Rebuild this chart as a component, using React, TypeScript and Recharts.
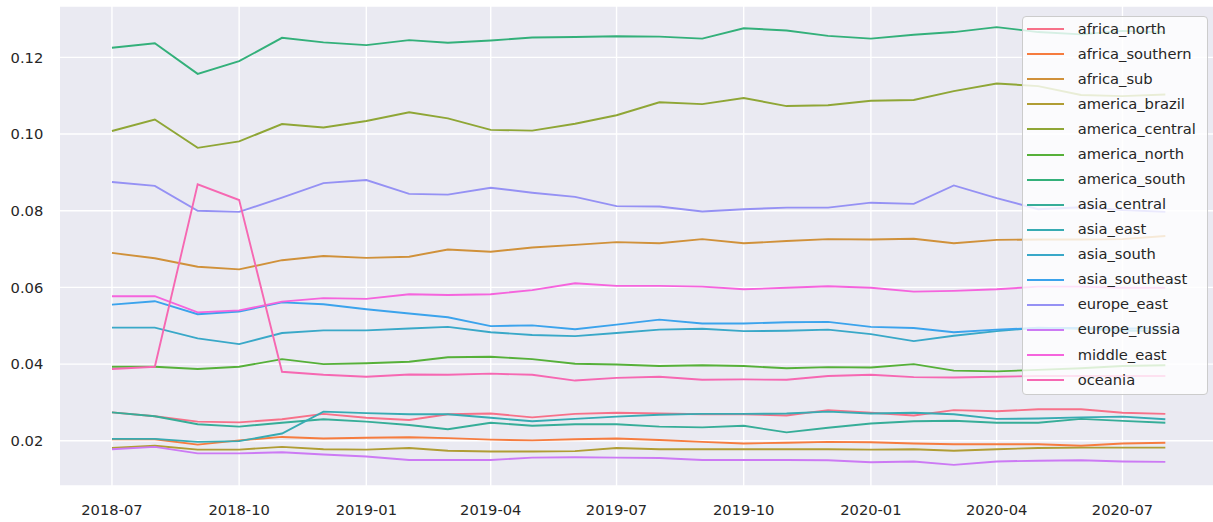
import React from 'react';
import { LineChart, Line, XAxis, YAxis, CartesianGrid, Legend } from 'recharts';

const months = [
  '2018-07', '2018-08', '2018-09', '2018-10', '2018-11', '2018-12',
  '2019-01', '2019-02', '2019-03', '2019-04', '2019-05', '2019-06',
  '2019-07', '2019-08', '2019-09', '2019-10', '2019-11', '2019-12',
  '2020-01', '2020-02', '2020-03', '2020-04', '2020-05', '2020-06',
  '2020-07', '2020-08',
];

const africa_north = [0.0274, 0.0264, 0.0250, 0.0248, 0.0256, 0.0270, 0.0260, 0.0254, 0.0269, 0.0271, 0.0261, 0.0270, 0.0273, 0.0271, 0.0269, 0.0269, 0.0266, 0.0280, 0.0273, 0.0266, 0.0280, 0.0277, 0.0282, 0.0282, 0.0273, 0.0270];
const africa_southern = [0.0204, 0.0204, 0.0190, 0.0201, 0.0210, 0.0206, 0.0208, 0.0209, 0.0207, 0.0203, 0.0201, 0.0204, 0.0206, 0.0202, 0.0197, 0.0193, 0.0195, 0.0197, 0.0196, 0.0193, 0.0191, 0.0191, 0.0191, 0.0187, 0.0193, 0.0195];
const africa_sub = [0.0690, 0.0676, 0.0654, 0.0647, 0.0671, 0.0682, 0.0677, 0.0680, 0.0699, 0.0693, 0.0704, 0.0711, 0.0718, 0.0715, 0.0726, 0.0715, 0.0721, 0.0726, 0.0725, 0.0727, 0.0715, 0.0724, 0.0725, 0.0725, 0.0726, 0.0734];
const america_brazil = [0.0181, 0.0187, 0.0177, 0.0177, 0.0184, 0.0178, 0.0177, 0.0181, 0.0174, 0.0172, 0.0172, 0.0173, 0.0181, 0.0178, 0.0178, 0.0178, 0.0178, 0.0178, 0.0177, 0.0178, 0.0174, 0.0178, 0.0181, 0.0182, 0.0182, 0.0182];
const america_central = [0.1008, 0.1038, 0.0964, 0.0981, 0.1026, 0.1017, 0.1034, 0.1057, 0.1041, 0.1011, 0.1009, 0.1027, 0.1049, 0.1083, 0.1078, 0.1094, 0.1073, 0.1075, 0.1087, 0.1089, 0.1112, 0.1132, 0.1125, 0.1102, 0.1099, 0.1103];
const america_north = [0.0393, 0.0393, 0.0387, 0.0393, 0.0413, 0.0400, 0.0402, 0.0406, 0.0418, 0.0419, 0.0413, 0.0401, 0.0399, 0.0395, 0.0397, 0.0395, 0.0389, 0.0392, 0.0391, 0.0400, 0.0383, 0.0381, 0.0385, 0.0389, 0.0395, 0.0397];
const america_south = [0.1225, 0.1237, 0.1157, 0.1190, 0.1251, 0.1239, 0.1232, 0.1245, 0.1238, 0.1244, 0.1252, 0.1253, 0.1255, 0.1254, 0.1249, 0.1276, 0.1270, 0.1256, 0.1249, 0.1259, 0.1266, 0.1279, 0.1266, 0.1260, 0.1269, 0.1265];
const asia_central = [0.0274, 0.0264, 0.0243, 0.0237, 0.0247, 0.0256, 0.0250, 0.0241, 0.0230, 0.0247, 0.0239, 0.0243, 0.0243, 0.0237, 0.0235, 0.0239, 0.0222, 0.0234, 0.0245, 0.0251, 0.0252, 0.0247, 0.0247, 0.0257, 0.0252, 0.0247];
const asia_east = [0.0205, 0.0205, 0.0197, 0.0199, 0.0219, 0.0276, 0.0272, 0.0269, 0.0269, 0.0260, 0.0251, 0.0257, 0.0263, 0.0268, 0.0270, 0.0270, 0.0271, 0.0276, 0.0271, 0.0273, 0.0269, 0.0257, 0.0258, 0.0261, 0.0263, 0.0256];
const asia_south = [0.0495, 0.0495, 0.0467, 0.0452, 0.0481, 0.0488, 0.0488, 0.0493, 0.0497, 0.0483, 0.0476, 0.0473, 0.0481, 0.0490, 0.0492, 0.0486, 0.0487, 0.0490, 0.0478, 0.0460, 0.0474, 0.0486, 0.0495, 0.0492, 0.0487, 0.0487];
const asia_southeast = [0.0555, 0.0564, 0.0530, 0.0537, 0.0561, 0.0556, 0.0543, 0.0532, 0.0522, 0.0499, 0.0501, 0.0491, 0.0503, 0.0516, 0.0506, 0.0506, 0.0509, 0.0510, 0.0497, 0.0494, 0.0483, 0.0490, 0.0494, 0.0494, 0.0492, 0.0495];
const europe_east = [0.0875, 0.0865, 0.0800, 0.0797, 0.0834, 0.0872, 0.0880, 0.0844, 0.0842, 0.0860, 0.0847, 0.0836, 0.0812, 0.0811, 0.0798, 0.0804, 0.0808, 0.0808, 0.0821, 0.0818, 0.0866, 0.0833, 0.0804, 0.0809, 0.0802, 0.0797];
const europe_russia = [0.0178, 0.0184, 0.0167, 0.0167, 0.0170, 0.0164, 0.0159, 0.0150, 0.0150, 0.0150, 0.0156, 0.0157, 0.0156, 0.0155, 0.0150, 0.0150, 0.0150, 0.0149, 0.0144, 0.0146, 0.0137, 0.0146, 0.0148, 0.0149, 0.0146, 0.0145];
const middle_east = [0.0577, 0.0577, 0.0535, 0.0540, 0.0563, 0.0572, 0.0570, 0.0582, 0.0580, 0.0582, 0.0593, 0.0611, 0.0604, 0.0604, 0.0602, 0.0595, 0.0599, 0.0603, 0.0599, 0.0589, 0.0591, 0.0595, 0.0602, 0.0602, 0.0599, 0.0599];
const oceania = [0.0387, 0.0393, 0.0869, 0.0828, 0.0380, 0.0372, 0.0367, 0.0373, 0.0372, 0.0375, 0.0372, 0.0357, 0.0364, 0.0367, 0.0359, 0.0360, 0.0359, 0.0369, 0.0372, 0.0366, 0.0365, 0.0367, 0.0369, 0.0369, 0.0369, 0.0369];

const xTickLabels = ['2018-07', '2018-10', '2019-01', '2019-04', '2019-07', '2019-10', '2020-01', '2020-04', '2020-07'];
const yTicks = [0.02, 0.04, 0.06, 0.08, 0.1, 0.12];

// seaborn husl palette, one colour per region
const series = [
  { name: 'africa_north', values: africa_north, color: '#f77189' },
  { name: 'africa_southern', values: africa_southern, color: '#f67c3f' },
  { name: 'africa_sub', values: africa_sub, color: '#d0913a' },
  { name: 'america_brazil', values: america_brazil, color: '#b09d34' },
  { name: 'america_central', values: america_central, color: '#8fa636' },
  { name: 'america_north', values: america_north, color: '#56b039' },
  { name: 'america_south', values: america_south, color: '#33b07a' },
  { name: 'asia_central', values: asia_central, color: '#36ad98' },
  { name: 'asia_east', values: asia_east, color: '#37abb2' },
  { name: 'asia_south', values: asia_south, color: '#39a8c8' },
  { name: 'asia_southeast', values: asia_southeast, color: '#3ba3ec' },
  { name: 'europe_east', values: europe_east, color: '#9591f4' },
  { name: 'europe_russia', values: europe_russia, color: '#cc7af4' },
  { name: 'middle_east', values: middle_east, color: '#f564dd' },
  { name: 'oceania', values: oceania, color: '#f668b2' },
];

const toTime = (m: string) => {
  const [y, mo] = m.split('-').map(Number);
  return Date.UTC(y, mo - 1, 1);
};

const data = months.map((m, i) => {
  const row: any = { t: toTime(m) };
  series.forEach((s) => { row[s.name] = s.values[i]; });
  return row;
});

const xTicks = xTickLabels.map(toTime);
const tMin = toTime(months[0]);
const tMax = toTime(months[months.length - 1]);
const pad = (tMax - tMin) * 0.05;

const fmtMonth = (t: number) => {
  const d = new Date(t);
  return `${d.getUTCFullYear()}-${String(d.getUTCMonth() + 1).padStart(2, '0')}`;
};

const TEXT = '#262626';
const FONT = 'DejaVu Sans, sans-serif';

const LegendBox = (props: any) => {
  const items = props.payload && props.payload.length ? props.payload : series.map((s) => ({ value: s.name, color: s.color }));
  return (
    <div
      style={{
        width: 186,
        boxSizing: 'border-box',
        background: 'rgba(255,255,255,0.8)',
        border: '1px solid #cccccc',
        borderRadius: 4,
        paddingBottom: 1,
      }}
    >
      {items.map((it: any) => (
        <div key={it.value} style={{ height: 25.07, display: 'flex', alignItems: 'center', position: 'relative' }}>
          <div style={{ position: 'absolute', left: 4, width: 37, height: 2, top: 11.5, background: it.color }} />
          <span style={{ position: 'absolute', left: 55, top: 3, fontSize: 14.7, color: TEXT, fontFamily: FONT, lineHeight: '18px', whiteSpace: 'nowrap' }}>
            {it.value}
          </span>
        </div>
      ))}
    </div>
  );
};

const App: React.FC = () => {
  return (
    <div
      style={{
        position: 'absolute',
        left: 0,
        top: 0,
        width: 1213,
        height: 522,
        overflow: 'hidden',
        background: '#ffffff',
        fontFamily: FONT,
      }}
    >
      <LineChart
        width={1230}
        height={522}
        data={data}
        margin={{ top: 6, right: 12, bottom: 0, left: 0 }}
      >
        <CartesianGrid fill="#eaeaf2" stroke="#ffffff" strokeWidth={1.4} />
        <XAxis
          dataKey="t"
          type="number"
          domain={[tMin - pad, tMax + pad]}
          ticks={xTicks}
          tickFormatter={fmtMonth}
          axisLine={false}
          tickLine={false}
          tickSize={0}
          tickMargin={19}
          height={36}
          allowDataOverflow
          tick={{ fill: TEXT, fontSize: 14.7, fontFamily: FONT }}
        />
        <YAxis
          type="number"
          domain={[0.0082, 0.1334]}
          ticks={yTicks}
          tickFormatter={(v: number) => v.toFixed(2)}
          axisLine={false}
          tickLine={false}
          tickSize={0}
          tickMargin={16}
          width={59.3}
          allowDataOverflow
          tick={{ fill: TEXT, fontSize: 14.7, fontFamily: FONT }}
        />
        {series.map((s) => (
          <Line
            key={s.name}
            type="linear"
            dataKey={s.name}
            name={s.name}
            stroke={s.color}
            strokeWidth={1.9}
            dot={false}
            activeDot={false}
            isAnimationActive={false}
          />
        ))}
        <Legend
          layout="horizontal"
          align="center"
          verticalAlign="middle"
          content={<LegendBox />}
          wrapperStyle={{ left: 1021.7, top: 15.7, width: 186, height: 'auto' }}
        />
      </LineChart>
    </div>
  );
};

export default App;
